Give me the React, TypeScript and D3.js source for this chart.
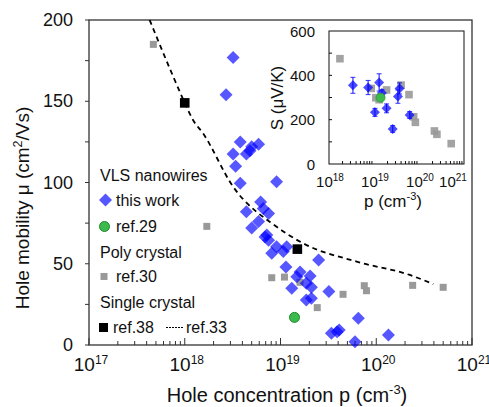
import React from 'react'
import * as d3 from 'd3'

// main panel: VLS nanowires (this work)
const nwP = [3.2e18, 2.7e18, 3.8e18, 3.2e18, 4.4e18, 5.0e18, 5.9e18, 3.4e18, 3.8e18, 9.1e18,
  6.2e18, 4.4e18, 6.6e18, 7.5e18, 5.9e18, 5.0e18, 6.9e18, 7.5e18, 9.1e18, 8.1e18,
  1.16e19, 1.07e19, 2.5e19, 1.14e19, 1.6e19, 1.48e19, 2.04e19, 1.31e19, 1.86e19, 2.1e19,
  3.2e19, 1.86e19, 2.1e19, 3.4e19, 3.9e19, 6.5e19, 4.1e19, 6.0e19, 1.34e20, 4.8e18, 7.2e18]
const nwMu = [177, 154, 125, 117.5, 117.5, 122, 123.5, 110, 99.5, 100.5,
  88, 82, 84, 81, 76, 72, 66.5, 64.5, 60.5, 56.5,
  60.5, 57.5, 52.3, 48, 45, 42, 42.5, 35, 38, 35.5,
  33, 27.7, 28.7, 7.2, 8.2, 16.4, 9.2, 2, 6.2, 119.6, 67.7]

const ref29P = [1.4e19]
const ref29Mu = [17]

const ref30P = [4.7e17, 1.7e18, 8.1e18, 1.1e19, 1.6e19, 2.42e19, 4.5e19, 7.5e19, 7.9e19, 2.4e20, 5.0e20]
const ref30Mu = [185, 73, 41.4, 41.8, 38.6, 23, 31.2, 36.5, 33.4, 36.7, 35.5]

const ref38P = [1e18, 1.5e19]
const ref38Mu = [149, 59]

const ref33P = [4.3e17, 7.6e17, 1.0e18, 1.22e18, 1.55e18, 3.2e18, 9.1e18, 1.72e19, 6.25e19, 2.24e20, 3.94e20]
const ref33Mu = [200, 165, 149, 138.5, 130.3, 97.4, 72.8, 62.6, 51.3, 43.1, 37.5]

// inset: Seebeck coefficient
const inNwP = [3.4e18, 7.4e18, 1.3e19, 1.05e19, 1.9e19, 2.6e19, 3.4e19, 3.7e19, 6.2e19, 1.5e19]
const inNwS = [355, 345, 368, 233, 251, 158, 304, 341, 221, 320]
const inNwErr = [36, 32, 39, 18, 20, 15, 30, 25, 15, 15]

const inRef30P = [1.75e18, 8.7e18, 1.1e19, 1.9e19, 4.0e19, 6.0e19, 7.6e19, 8.3e19, 2.2e20, 2.5e20, 5.2e20, 1.3e19]
const inRef30S = [475, 341, 299, 334, 356, 313, 213, 188, 149, 134, 92, 290]

const inRef29P = [1.4e19]
const inRef29S = [299]

const xTicks = [1e17, 1e18, 1e19, 1e20, 1e21]
const yTicks = [0, 50, 100, 150, 200]
const inXTicks = [1e18, 1e19, 1e20, 1e21]
const inYTicks = [0, 200, 400, 600]

const font = 'Liberation Sans, Arial, sans-serif'
const BLUE = '#0000ff'
const GREY = '#999999'
const GREEN = '#3cba4c'

const minorTicks = (lo, hi) => {
  const out = []
  for (let e = lo; e < hi; e++) for (let m = 2; m <= 9; m++) out.push(m * Math.pow(10, e))
  return out
}

const Pow = ({ x, y, exp, size, supSize, anchor = 'middle', dx = 0 }) => (
  <text x={x + dx} y={y} fontSize={size} textAnchor={anchor} fontFamily={font} fill="#111">
    <tspan>10</tspan>
    <tspan dy={-size * 0.38} fontSize={supSize}>{exp}</tspan>
  </text>
)

const diamond = (cx, cy, r) => `M${cx},${cy - r}L${cx + r},${cy}L${cx},${cy + r}L${cx - r},${cy}Z`

export default function App() {
  const width = 489, height = 407
  const x = d3.scaleLog().domain([1e17, 1e21]).range([89, 472])
  const y = d3.scaleLinear().domain([0, 200]).range([345, 20])
  const ix = d3.scaleLog().domain([1e18, 1e21]).range([329, 464])
  const iy = d3.scaleLinear().domain([0, 600]).range([164, 31])

  const ref33Line = d3.line<number>()
    .x((_d, i) => x(ref33P[i]))
    .y((d) => y(d))
    .curve(d3.curveMonotoneX)(ref33Mu)

  return (
    <div style={{ position: 'absolute', left: 0, top: 0 }}>
      <svg width={width} height={height} style={{ display: 'block', background: '#fff' }}>
        {/* main frame */}
        <rect x={89} y={20} width={472 - 89} height={325} fill="none" stroke="#333" strokeWidth={1.3} />
        {d3.range(0, 201, 25).map(v => (
          <line key={'yt' + v} x1={85} x2={89} y1={y(v)} y2={y(v)} stroke="#333" strokeWidth={1} />
        ))}
        {minorTicks(17, 21).map((v, i) => (
          <line key={'xm' + i} x1={x(v)} x2={x(v)} y1={345} y2={341} stroke="#333" strokeWidth={1} />
        ))}
        {xTicks.map(v => (
          <line key={'xt' + v} x1={x(v)} x2={x(v)} y1={345} y2={338} stroke="#333" strokeWidth={1} />
        ))}
        {yTicks.map(v => (
          <text key={'yl' + v} x={73} y={y(v) + 6} fontSize={18} textAnchor="end" fontFamily={font} fill="#111">{v}</text>
        ))}
        {xTicks.map(v => (
          <Pow key={'xl' + v} x={x(v)} y={371} exp={Math.round(Math.log10(v))} size={19} supSize={12} dx={2} />
        ))}
        <text x={287} y={402} fontSize={20} textAnchor="middle" fontFamily={font} fill="#111">
          Hole concentration p (cm<tspan dy={-8} fontSize={13}>-3</tspan><tspan dy={8}>)</tspan>
        </text>
        <text transform="translate(29,208) rotate(-90)" fontSize={19} textAnchor="middle" fontFamily={font} fill="#111">
          Hole mobility μ (cm<tspan dy={-7.5} fontSize={12.5}>2</tspan><tspan dy={7.5}>/Vs)</tspan>
        </text>

        {/* ref.33 line */}
        <path d={ref33Line} fill="none" stroke="#000" strokeWidth={1.8} strokeDasharray="5,4" />

        {/* ref.30 */}
        {ref30P.map((p, i) => (
          <rect key={'r30' + i} x={x(p) - 3.5} y={y(ref30Mu[i]) - 3.5} width={7} height={7} fill={GREY} />
        ))}
        {/* ref.38 */}
        {ref38P.map((p, i) => (
          <rect key={'r38' + i} x={x(p) - 4.8} y={y(ref38Mu[i]) - 4.8} width={9.6} height={9.6} fill="#000" />
        ))}
        {/* this work */}
        {nwP.map((p, i) => (
          <path key={'nw' + i} d={diamond(x(p), y(nwMu[i]), 6.5)} fill={BLUE} fillOpacity={0.66} />
        ))}
        {/* ref.29 */}
        {ref29P.map((p, i) => (
          <circle key={'r29' + i} cx={x(p)} cy={y(ref29Mu[i])} r={5} fill={GREEN} stroke="#1d8a2c" strokeWidth={1} />
        ))}

        {/* legend */}
        <g fontFamily={font} fontSize={16} fill="#111">
          <text x={100} y={181}>VLS nanowires</text>
          <path d={diamond(105.5, 200, 6.5)} fill={BLUE} fillOpacity={0.66} />
          <text x={116} y={206}>this work</text>
          <circle cx={104.5} cy={226.5} r={5} fill={GREEN} stroke="#1d8a2c" strokeWidth={1} />
          <text x={116} y={232}>ref.29</text>
          <text x={100} y={258}>Poly crystal</text>
          <rect x={100.5} y={273} width={7} height={7} fill={GREY} />
          <text x={116} y={282}>ref.30</text>
          <text x={100} y={308}>Single crystal</text>
          <rect x={99} y={323} width={9} height={9} fill="#000" />
          <text x={113} y={333}>ref.38</text>
          <line x1={166} x2={184} y1={327.5} y2={327.5} stroke="#000" strokeWidth={1} strokeDasharray="2,1" />
          <text x={186} y={333}>ref.33</text>
        </g>

        {/* inset */}
        <rect x={329} y={31} width={135} height={133} fill="#fff" stroke="#111" strokeWidth={1} />
        {d3.range(100, 600, 100).map(v => (
          <line key={'iyt' + v} x1={329} x2={332} y1={iy(v)} y2={iy(v)} stroke="#111" strokeWidth={1} />
        ))}
        {minorTicks(18, 21).map((v, i) => (
          <line key={'ixm' + i} x1={ix(v)} x2={ix(v)} y1={164} y2={161} stroke="#111" strokeWidth={1} />
        ))}
        {inYTicks.map(v => (
          <text key={'iyl' + v} x={315} y={iy(v) + 5.5} fontSize={15} textAnchor="end" fontFamily={font} fill="#111">{v}</text>
        ))}
        {inXTicks.map(v => (
          <Pow key={'ixl' + v} x={ix(v)} y={187} exp={Math.round(Math.log10(v))} size={15} supSize={10}
            dx={v === 1e21 ? -11 : 1} />
        ))}
        <text x={393} y={207} fontSize={17} textAnchor="middle" fontFamily={font} fill="#111">
          p (cm<tspan dy={-7} fontSize={11}>-3</tspan><tspan dy={7}>)</tspan>
        </text>
        <text transform="translate(283,98) rotate(-90)" fontSize={17} textAnchor="middle" fontFamily={font} fill="#111">
          S (μV/K)
        </text>
        {inRef30P.map((p, i) => (
          <rect key={'ir30' + i} x={ix(p) - 3.8} y={iy(inRef30S[i]) - 3.8} width={7.6} height={7.6} fill={GREY} fillOpacity={0.9} />
        ))}
        {inNwP.map((p, i) => {
          const cx = ix(p)
          const top = iy(inNwS[i] + inNwErr[i]), bot = iy(inNwS[i] - inNwErr[i])
          return (
            <g key={'inw' + i}>
              <line x1={cx} x2={cx} y1={top} y2={bot} stroke={BLUE} strokeOpacity={0.8} strokeWidth={1.2} />
              <line x1={cx - 2.5} x2={cx + 2.5} y1={top} y2={top} stroke={BLUE} strokeOpacity={0.8} strokeWidth={1} />
              <line x1={cx - 2.5} x2={cx + 2.5} y1={bot} y2={bot} stroke={BLUE} strokeOpacity={0.8} strokeWidth={1} />
              <path d={diamond(cx, iy(inNwS[i]), 5)} fill={BLUE} fillOpacity={0.7} />
            </g>
          )
        })}
        {inRef29P.map((p, i) => (
          <circle key={'ir29' + i} cx={ix(p)} cy={iy(inRef29S[i])} r={4.5} fill={GREEN} stroke="#2a9a3a" strokeWidth={0.8} />
        ))}
      </svg>
    </div>
  )
}
